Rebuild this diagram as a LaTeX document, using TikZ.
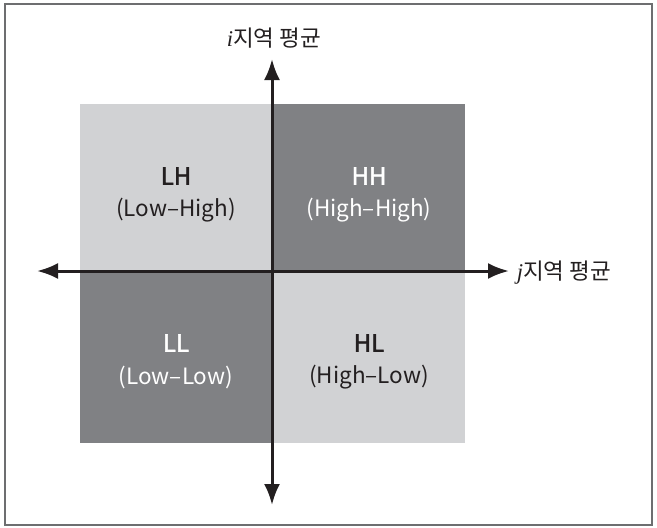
\documentclass[tikz,border=0pt]{standalone}
\usepackage{fontspec}
\setmainfont{Noto Sans CJK KR}
\newfontfamily\medfont[FakeBold=1.5]{Noto Sans CJK KR}
\newfontfamily\itfont{Liberation Serif}
\usetikzlibrary{arrows.meta}
\definecolor{lightq}{HTML}{D1D2D4}
\definecolor{darkq}{HTML}{808184}
\definecolor{axisc}{HTML}{231F20}
\definecolor{framec}{HTML}{6D6E70}
\begin{document}
\begin{tikzpicture}[x=1pt,y=-1pt,
  quad/.style={draw=none,inner sep=0pt,minimum width=#1,anchor=center},
  qtitle/.style={font=\medfont\fontsize{24}{26}\selectfont,inner sep=0pt},
  qsub/.style={font=\fontsize{22.5}{26}\selectfont,inner sep=0pt},
  axislab/.style={font=\fontsize{22.5}{26}\selectfont,text=axisc,inner sep=0pt},
  axis/.style={line width=3pt,draw=axisc,{Latex[length=21pt,width=16pt]}-{Latex[length=21pt,width=16pt]}}]
\useasboundingbox (0,0) rectangle (657,528);
\draw[framec,line width=2pt] (5,4) rectangle (652,525);
% quadrants
\node[quad=192pt,fill=lightq,minimum height=167pt] (lh) at (176,187.5) {};
\node[quad=193pt,fill=darkq,minimum height=167pt] (hh) at (368.5,187.5) {};
\node[quad=192pt,fill=darkq,minimum height=172pt] (ll) at (176,357) {};
\node[quad=193pt,fill=lightq,minimum height=172pt] (hl) at (368.5,357) {};
% labels
\node[qtitle,text=axisc] (lht) at (176,176) {LH};
\node[qsub,text=axisc] (lhs) at (176,210) {(Low–High)};
\node[qtitle,text=white] (hht) at (369,176) {HH};
\node[qsub,text=white] (hhs) at (369,210) {(High–High)};
\node[qtitle,text=white] (llt) at (176,343) {LL};
\node[qsub,text=white] (lls) at (176,377) {(Low–Low)};
\node[qtitle,text=axisc] (hlt) at (369,343) {HL};
\node[qsub,text=axisc] (hls) at (369,377) {(High–Low)};
% axes
\coordinate (top) at (272,59);
\coordinate (bot) at (272,505);
\coordinate (lft) at (37,271);
\coordinate (rgt) at (509,271);
\draw[axis] (bot) -- (top);
\draw[axis] (lft) -- (rgt);
\node[axislab] (ilab) at (274,38) {{\itfont\itshape i}지역 평균};
\node[axislab] (jlab) at (564,273) {{\itfont\itshape j}지역 평균};
\end{tikzpicture}
\end{document}
